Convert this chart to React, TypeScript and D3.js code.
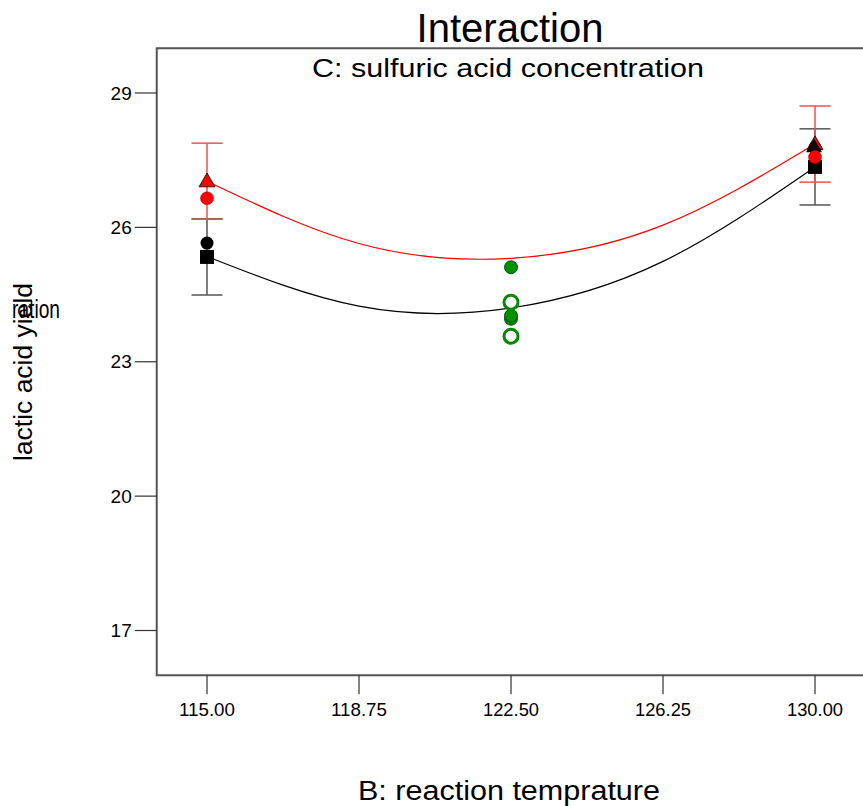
import React from "react";
import * as d3 from "d3";

// ---- data ----
const xTicks = [115, 118.75, 122.5, 126.25, 130];
const yTicks = [17, 20, 23, 26, 29];

// predicted curves (C high = red, C low = black), read at the x tick positions
const curveTemps = [115, 118.75, 122.5, 126.25, 130];
const highPred = [27.03, 25.64, 25.31, 26.05, 27.86];
const lowPred = [25.35, 24.24, 24.2, 25.24, 27.35];

// LSD error bars at the factor ends
const barTemps = [115, 130];
const highBarCenter = [27.03, 27.86];
const lowBarCenter = [25.34, 27.35];
const barHalf = [0.85, 0.85];

// design points
const highDesignTemps = [115, 130];
const highDesignYield = [26.65, 27.57];
const lowDesignTemps = [115, 130];
const lowDesignYield = [25.65, 27.78];
const centerTemps = [122.5, 122.5, 122.5, 122.5, 122.5];
const centerYield = [23.96, 24.03, 25.11, 24.33, 23.57];
const centerFilled = [true, true, true, false, false];

const W = 863;
const H = 806;
const FONT = "'Liberation Sans', Arial, Helvetica, sans-serif";

export default function App() {
  const x = d3.scaleLinear().domain([115, 130]).range([207, 815]);
  const y = d3.scaleLinear().domain([16, 30]).range([675.3, 48.2]);
  const left = x(113.76);
  const right = x(131.24);
  const top = y(30);
  const bottom = y(16);

  const line = d3
    .line<number>()
    .x((_, i) => x(curveTemps[i]))
    .y((d) => y(d))
    .curve(d3.curveNatural);

  const tri = d3.symbol().type(d3.symbolTriangle).size(110)();
  const capW = 15.5;

  const errBar = (cx: number, c: number, h: number, color: string, key: string) => (
    <g key={key} stroke={color} strokeWidth={1.5}>
      <line x1={x(cx)} x2={x(cx)} y1={y(c + h)} y2={y(c - h)} />
      <line x1={x(cx) - capW} x2={x(cx) + capW} y1={y(c + h)} y2={y(c + h)} />
      <line x1={x(cx) - capW} x2={x(cx) + capW} y1={y(c - h)} y2={y(c - h)} />
    </g>
  );

  return (
    <svg
      width={W}
      height={H}
      style={{ position: "absolute", left: 0, top: 0, background: "#fff" }}
      fontFamily={FONT}
    >
      {/* frame */}
      <path
        d={`M${right},${top}H${left}V${bottom}H${right}`}
        fill="none"
        stroke="#555"
        strokeWidth={2}
      />
      {/* y ticks */}
      {yTicks.map((t) => (
        <g key={"y" + t}>
          <line x1={left - 22} x2={left} y1={y(t)} y2={y(t)} stroke="#333" strokeWidth={1.2} />
          <text x={left - 25} y={y(t)} dy="0.35em" textAnchor="end" fontSize={19}>
            {t}
          </text>
        </g>
      ))}
      {/* x ticks */}
      {xTicks.map((t) => (
        <g key={"x" + t}>
          <line x1={x(t)} x2={x(t)} y1={bottom} y2={bottom + 19} stroke="#333" strokeWidth={1.2} />
          <text x={x(t)} y={716} textAnchor="middle" fontSize={18.5} textLength={56} lengthAdjust="spacingAndGlyphs">
            {t.toFixed(2)}
          </text>
        </g>
      ))}

      {/* error bars */}
      {barTemps.map((t, i) => errBar(t, lowBarCenter[i], barHalf[i], "#555", "lb" + i))}
      {barTemps.map((t, i) => errBar(t, highBarCenter[i], barHalf[i], "#f05050", "hb" + i))}

      {/* curves */}
      <path d={line(lowPred) || ""} fill="none" stroke="#000" strokeWidth={1.2} />
      <path d={line(highPred) || ""} fill="none" stroke="#ff0000" strokeWidth={1.2} />

      {/* center points */}
      {centerTemps.map((t, i) =>
        centerFilled[i] ? (
          <circle key={"c" + i} cx={x(t)} cy={y(centerYield[i])} r={6.5} fill="#009000" stroke="#003000" strokeWidth={0.8} />
        ) : (
          <circle key={"c" + i} cx={x(t)} cy={y(centerYield[i])} r={7} fill="#fff" stroke="#008a00" strokeWidth={3} />
        )
      )}

      {/* low-level markers: squares at predicted ends, circles for design points */}
      {barTemps.map((t, i) => (
        <rect key={"sq" + i} x={x(t) - 7} y={y(lowBarCenter[i]) - 7} width={14} height={14} fill="#000" />
      ))}
      {lowDesignTemps.map((t, i) => (
        <circle key={"ld" + i} cx={x(t)} cy={y(lowDesignYield[i])} r={6.5} fill="#000" />
      ))}
      {/* high-level markers: triangles at predicted ends */}
      {barTemps.map((t, i) => (
        <path key={"tr" + i} d={tri || ""} transform={`translate(${x(t)},${y(highBarCenter[i]) + 1})`} fill="#ff0000" stroke="#000" strokeWidth={0.8} />
      ))}
      <path d={tri || ""} transform={`translate(${x(130) - 1},${y(27.8) + 1})`} fill="#000" />
      {highDesignTemps.map((t, i) => (
        <circle key={"hd" + i} cx={x(t)} cy={y(highDesignYield[i])} r={6.5} fill="#ff0000" stroke="#a00" strokeWidth={0.5} />
      ))}

      {/* titles */}
      <text x={510} y={42} textAnchor="middle" fontSize={40}>
        Interaction
      </text>
      <text x={508} y={77} textAnchor="middle" fontSize={26} textLength={392} lengthAdjust="spacingAndGlyphs">
        C: sulfuric acid concentration
      </text>
      <text x={509} y={800} textAnchor="middle" fontSize={27} textLength={302} lengthAdjust="spacingAndGlyphs">
        B: reaction temprature
      </text>
      <text x={12} y={318} fontSize={26} textLength={48} lengthAdjust="spacingAndGlyphs">
        ration
      </text>
      <text
        transform={`translate(32,372) rotate(-90)`}
        textAnchor="middle"
        fontSize={26.5}
      >
        lactic acid yield
      </text>
    </svg>
  );
}
